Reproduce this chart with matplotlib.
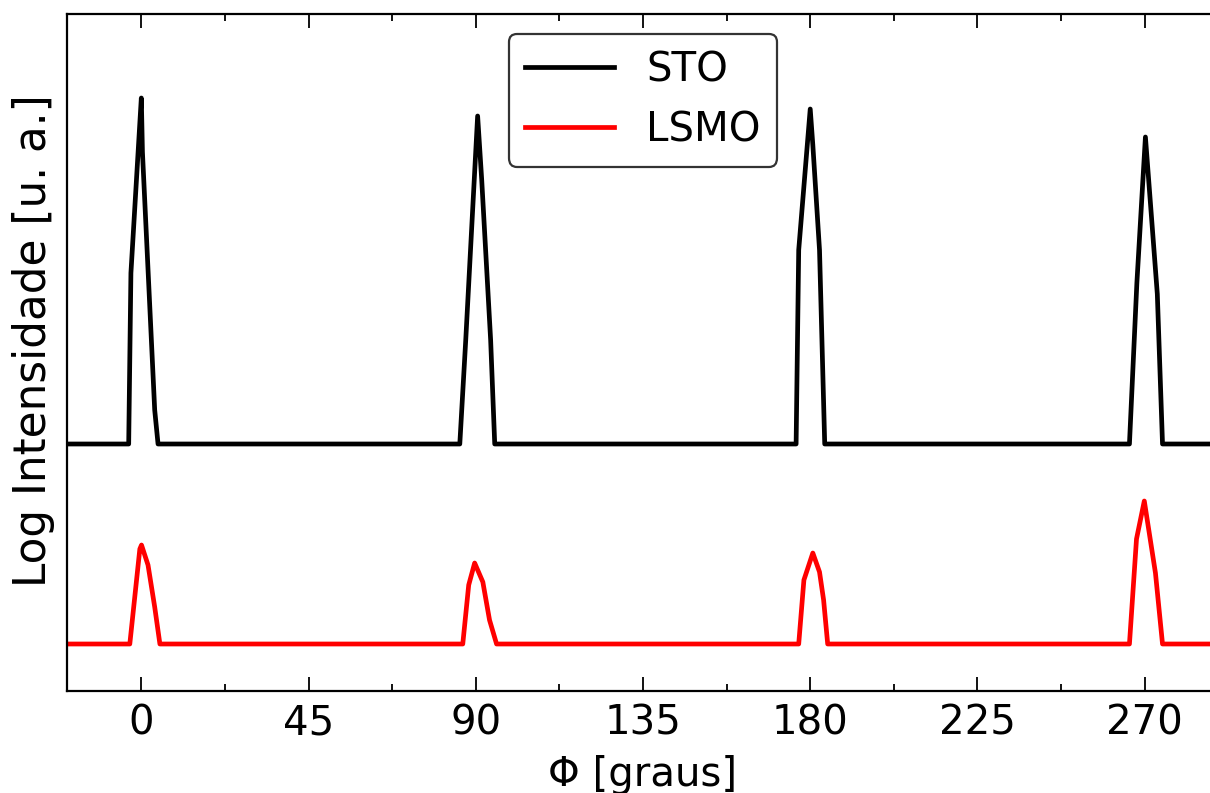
import matplotlib
matplotlib.use("Agg")
import matplotlib.pyplot as plt
from matplotlib.ticker import MultipleLocator

# ── Data ────────────────────────────────────────────────────────────────────
sto_phi = [-20, -3.4, -2.8, 0.0, 0.3, 3.6, 4.5,
           85.7, 87.3, 90.5, 91.6, 94.0, 95.1,
           176.2, 176.9, 180.0, 180.7, 182.5, 183.9,
           265.9, 267.9, 270.2, 273.4, 274.8, 290]
sto_int = [2.0, 2.0, 3.71, 5.46, 4.92, 2.34, 2.0,
           2.0, 3.04, 5.28, 4.64, 3.04, 2.0,
           2.0, 3.94, 5.35, 4.99, 3.94, 2.0,
           2.0, 3.61, 5.07, 3.50, 2.0, 2.0]

lsmo_phi = [-20, -3.1, -0.4, 0.05, 1.8, 3.6, 5.0,
            86.5, 88.1, 89.7, 91.9, 93.7, 95.6,
            176.9, 178.3, 180.7, 182.5, 183.6, 184.7,
            265.9, 267.8, 269.9, 272.9, 274.8, 290]
lsmo_int = [0.0, 0.0, 0.95, 0.99, 0.79, 0.37, 0.0,
            0.0, 0.59, 0.81, 0.62, 0.24, 0.0,
            0.0, 0.64, 0.91, 0.72, 0.44, 0.0,
            0.0, 1.05, 1.43, 0.71, 0.0, 0.0]

xticks = [0, 45, 90, 135, 180, 225, 270]

# ── Figure ──────────────────────────────────────────────────────────────────
fig = plt.figure(figsize=(12.10, 7.93), dpi=100)
ax = fig.add_axes([67 / 1210, 102 / 793, 1152 / 1210, 677 / 793])

ax.plot(sto_phi, sto_int, color="black", lw=3.4, label="STO")
ax.plot(lsmo_phi, lsmo_int, color="red", lw=3.4, label="LSMO")

ax.set_xlim(-20, 290)
ax.set_ylim(-0.47, 6.30)
ax.set_xticks(xticks)
ax.xaxis.set_minor_locator(MultipleLocator(22.5))
ax.set_yticks([])

ax.tick_params(axis="x", which="both", direction="in", top=True,
               labelsize=29, pad=9)
ax.tick_params(axis="x", which="major", length=10, width=1.3)
ax.tick_params(axis="x", which="minor", length=5, width=1.3)
for s in ax.spines.values():
    s.set_linewidth(1.6)

ax.set_xlabel("Φ [graus]", fontsize=29, labelpad=8)
ax.set_ylabel("Log Intensidade [u. a.]", fontsize=31.5)
ax.yaxis.set_label_coords(-0.010, 0.518)

leg = ax.legend(loc="upper center", fontsize=29, handlelength=2.2,
                framealpha=1, fancybox=True)
leg.get_frame().set_edgecolor("#333333")
leg.get_frame().set_linewidth(1.6)

fig.savefig("out.png", dpi=100)
